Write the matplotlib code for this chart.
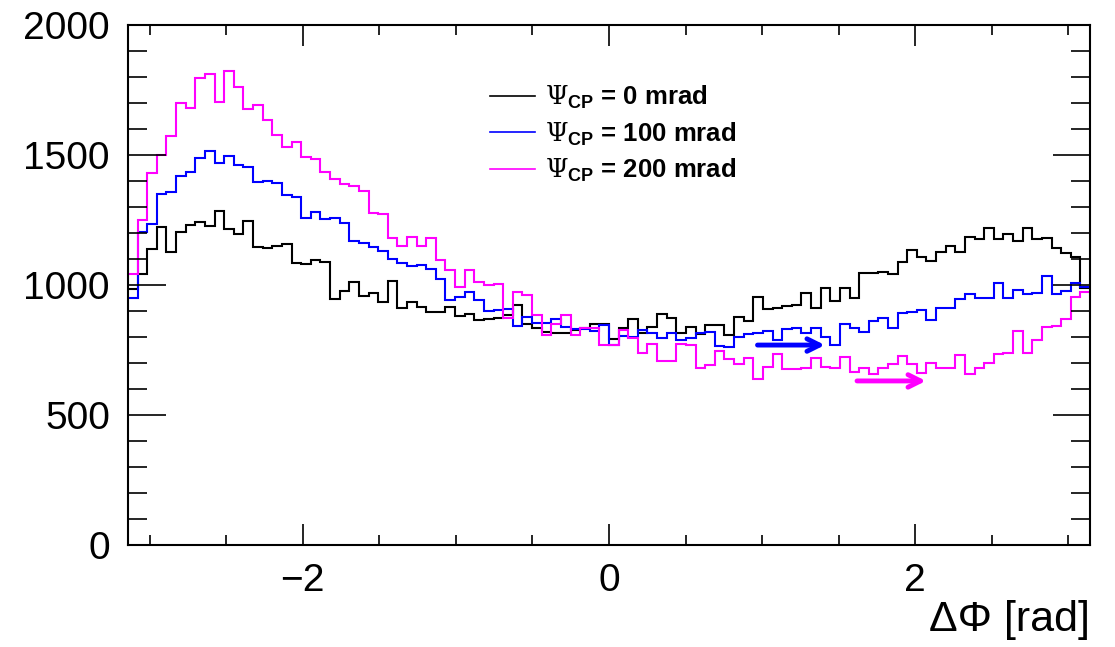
import numpy as np
import matplotlib
matplotlib.use("Agg")
import matplotlib.pyplot as plt
from matplotlib.ticker import MultipleLocator, FixedLocator

# ---------------- data ----------------
n_bins = 100
x_min, x_max = -np.pi, np.pi

psi0 = [985, 1042, 1138, 1222, 1128, 1205, 1231, 1244, 1228, 1286,
        1215, 1196, 1247, 1147, 1141, 1149, 1158, 1086, 1081, 1096,
        1090, 945, 978, 1010, 958, 968, 936, 1017, 912, 933,
        914, 897, 897, 914, 881, 887, 865, 869, 874, 885,
        923, 850, 836, 821, 814, 814, 826, 833, 850, 850,
        791, 833, 869, 817, 840, 887, 872, 814, 840, 810,
        846, 846, 808, 876, 863, 955, 906, 913, 919, 923,
        970, 913, 987, 938, 990, 951, 1047, 1047, 1051, 1041,
        1087, 1135, 1106, 1094, 1128, 1150, 1128, 1183, 1176, 1220,
        1177, 1196, 1171, 1220, 1176, 1182, 1144, 1122, 1109, 987]

psi100 = [949, 1205, 1235, 1349, 1356, 1419, 1436, 1490, 1514, 1468,
          1497, 1462, 1454, 1395, 1400, 1391, 1346, 1338, 1256, 1279,
          1253, 1259, 1237, 1171, 1160, 1147, 1131, 1099, 1086, 1073,
          1076, 1062, 1022, 942, 955, 973, 942, 901, 904, 908,
          842, 878, 855, 855, 869, 837, 829, 829, 823, 846,
          769, 805, 799, 827, 817, 797, 817, 788, 797, 817,
          818, 767, 762, 800, 812, 816, 822, 790, 830, 836,
          815, 833, 800, 771, 849, 836, 818, 863, 873, 833,
          894, 897, 904, 865, 910, 910, 946, 964, 949, 949,
          1009, 951, 981, 964, 970, 1035, 965, 978, 1009, 994]

psi200 = [1042, 1250, 1432, 1500, 1574, 1701, 1682, 1796, 1812, 1704,
          1824, 1763, 1678, 1692, 1635, 1577, 1532, 1550, 1494, 1483,
          1436, 1406, 1388, 1379, 1363, 1277, 1273, 1181, 1151, 1183,
          1150, 1181, 1098, 1059, 994, 1058, 1010, 999, 1005, 874,
          974, 963, 885, 809, 849, 885, 808, 833, 833, 769,
          769, 827, 795, 740, 772, 709, 709, 775, 769, 682,
          692, 747, 714, 695, 720, 637, 683, 733, 676, 676,
          679, 718, 686, 679, 722, 665, 681, 659, 680, 695,
          728, 695, 663, 701, 679, 679, 731, 656, 679, 699,
          735, 740, 823, 737, 789, 840, 842, 868, 955, 974]

labels = ["0 mrad", "100 mrad", "200 mrad"]
colors = ["#000000", "#0000ff", "#ff00ff"]
series = [psi0, psi100, psi200]

y_ticks = [0, 500, 1000, 1500, 2000]
x_ticks = [-2, 0, 2]

# arrows (data coordinates): (x_start, x_end, y)
arrow_blue = (0.97, 1.41, 769)
arrow_mag = (1.62, 2.07, 631)

# ---------------- styling ----------------
plt.rcParams['font.family'] = ['Liberation Sans', 'DejaVu Sans']
plt.rcParams['mathtext.fontset'] = 'custom'
plt.rcParams['mathtext.rm'] = 'DejaVu Serif'
plt.rcParams['mathtext.it'] = 'DejaVu Serif:italic'
plt.rcParams['mathtext.bf'] = 'Liberation Sans:bold'

W, H = 1115, 647
fig = plt.figure(figsize=(W / 100, H / 100), dpi=100)
left, right, top, bottom = 128, 1090, 25, 545
ax = fig.add_axes([left / W, (H - bottom) / H, (right - left) / W, (bottom - top) / H])

edges = np.linspace(x_min, x_max, n_bins + 1)
for vals, col, lab in zip(series, colors, labels):
    ax.stairs(vals, edges, color=col, lw=1.5, baseline=None,
              label=r'$\Psi_{\mathbf{CP}}$' + ' = ' + lab)

ax.set_xlim(x_min, x_max)
ax.set_ylim(0, 2000)

ax.xaxis.set_major_locator(FixedLocator(x_ticks))
ax.xaxis.set_minor_locator(MultipleLocator(0.5))
ax.yaxis.set_major_locator(FixedLocator(y_ticks))
ax.yaxis.set_minor_locator(MultipleLocator(100))

ax.tick_params(axis='both', which='both', direction='in', top=True, right=True,
               width=1.2, labelsize=28, colors='black')
ax.tick_params(axis='y', which='major', length=27, pad=13)
ax.tick_params(axis='y', which='minor', length=13.5)
ax.tick_params(axis='x', which='major', length=15, pad=13)
ax.tick_params(axis='x', which='minor', length=7.5)
ax.set_xticklabels(['\u22122', '0', '2'])
for sp in ax.spines.values():
    sp.set_linewidth(1.5)

ax.set_xlabel('\u0394\u03a6 [rad]', fontsize=31, loc='right', labelpad=1)

# arrows
for (x0, x1, yy), col in [(arrow_blue, colors[1]), (arrow_mag, colors[2])]:
    ax.annotate('', xy=(x1, yy), xytext=(x0, yy),
                arrowprops=dict(arrowstyle='->,head_length=0.9,head_width=0.45',
                                color=col, lw=3.5, shrinkA=0, shrinkB=0))

leg = ax.legend(loc='upper left',
                bbox_to_anchor=((490 - left) / (right - left), 1 - (84 - top) / (bottom - top)),
                frameon=False, prop={'weight': 'bold', 'size': 18.5},
                handlelength=1.75, handletextpad=0.39, labelspacing=0.36, borderpad=0,
                borderaxespad=0)
for line in leg.get_lines():
    line.set_linewidth(1.2)

fig.savefig('out.png', dpi=100)
